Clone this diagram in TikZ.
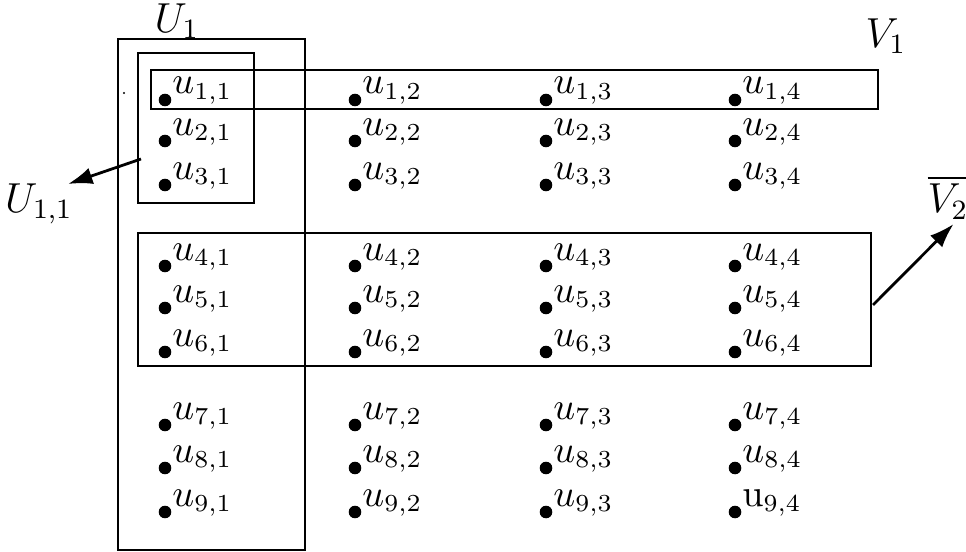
\documentclass[tikz,border=0pt]{standalone}
\usepackage{amsmath}
\usetikzlibrary{arrows.meta}
\tikzset{
  punto/.style={circle, fill=black, inner sep=0pt, minimum size=3.6pt},
  etich/.style={inner sep=0pt, anchor=base west, font=\fontsize{10.5}{12}\selectfont},
  insieme/.style={font=\large, inner sep=1pt},
  freccia/.style={-{Latex[length=7pt,width=4.8pt]}},
}
\newcommand{\ulab}[2]{\ifnum#1#2=94 \mathrm{u}\else u\fi_{#1,#2}}

\begin{document}
\begin{tikzpicture}[x=0.286pt, y=-0.286pt, line width=0.8pt]
\useasboundingbox (0,0) rectangle (966,552);
% punti della griglia
\foreach \riga/\yy in {1/100,2/141,3/185,4/266,5/308,6/352,7/425,8/468,9/512}
  \foreach \col/\xx in {1/165,2/355,3/546,4/735}{
    \node[punto] (d\riga\col) at (\xx,\yy) {};
    \node[etich] (u\riga\col) at ([shift={(6,-6)}]d\riga\col.center) {$\ulab{\riga}{\col}$};
  }
% insiemi
\draw (118,39) rectangle (305,550);
\draw (138,53) rectangle (254,203);
\draw (151,70) rectangle (878,109);
\draw (138,233) rectangle (871,366);
\fill (124,93) circle (0.3pt);

\node[insieme] (U1) at (177,21) {$U_1$};
\node[insieme] (V1) at (886,36) {$V_1$};
\node[insieme] (U11) at (39,204) {$U_{1,1}$};
\node[insieme, anchor=south] (V2) at (948,224) {$\overline{V_2}$};

% frecce
\coordinate (a1) at (141,159);
\coordinate (a2) at (873,305);
\draw[freccia] (a1) -- ([shift={(29,-20)}]U11.center);
\draw[freccia] (a2) -- ([xshift=1.6pt]V2.south);
\end{tikzpicture}
\end{document}
